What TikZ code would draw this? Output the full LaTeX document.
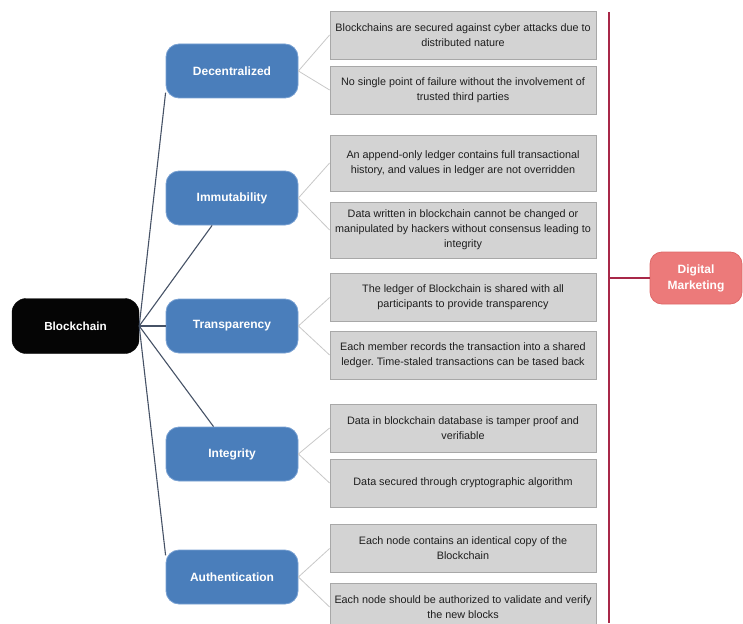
\documentclass[tikz,border=0pt]{standalone}
\usepackage{fontspec}
\setmainfont{Liberation Sans}
\usepackage{tikz}
\frenchspacing
\definecolor{rootblack}{RGB}{5,5,5}
\definecolor{propblue}{RGB}{74,126,187}
\definecolor{propedge}{RGB}{120,160,210}
\definecolor{boxgray}{RGB}{211,211,211}
\definecolor{boxedge}{RGB}{168,168,168}
\definecolor{txtdark}{RGB}{30,30,30}
\definecolor{trunkcol}{RGB}{70,82,102}
\definecolor{twigcol}{RGB}{200,200,200}
\definecolor{railred}{RGB}{168,40,72}
\definecolor{dmfill}{RGB}{236,122,122}
\definecolor{dmedge}{RGB}{222,104,104}
\tikzset{
  rootbox/.style={rectangle, draw=rootblack, fill=rootblack, text=white,
    minimum width=127pt, minimum height=55pt, rounded corners=14pt,
    font=\fontsize{11.7}{13}\selectfont\bfseries},
  propbox/.style={rectangle, draw=propedge, fill=propblue, text=white,
    minimum width=132pt, minimum height=54pt, rounded corners=13pt,
    font=\fontsize{12}{14}\selectfont\bfseries, line width=0.8pt},
  leafbox/.style={rectangle, draw=boxedge, fill=boxgray, text=txtdark,
    minimum width=266pt, minimum height=48pt, align=center,
    font=\fontsize{10.8}{15}\selectfont, line width=0.8pt},
  dmbox/.style={rectangle, draw=dmedge, fill=dmfill, text=white,
    minimum width=92pt, minimum height=52pt, rounded corners=12pt,
    align=center, font=\fontsize{12}{16}\selectfont\bfseries, line width=0.8pt},
  trunk/.style={line width=1.1pt, color=trunkcol},
  twig/.style={line width=0.8pt, color=twigcol},
  rail/.style={line width=2pt, color=railred}
}

\begin{document}
\begin{tikzpicture}[x=1pt, y=-1pt]
  \useasboundingbox (0,0) rectangle (743,623);

  % Root
  \node[rootbox] (bc) at (75.5,326) {Blockchain};

  % Properties
  \node[propbox] (dec) at (232,71) {Decentralized};
  \node[propbox] (imm) at (232,198) {Immutability};
  \node[propbox] (trans) at (232,326) {Transparency};
  \node[propbox] (integ) at (232,454) {Integrity};
  \node[propbox] (auth) at (232,577) {Authentication};

  % Details
  \node[leafbox] (d1) at (463,35) {Blockchains are secured against cyber attacks due to\\distributed nature};
  \node[leafbox] (d2) at (463,90) {No single point of failure without the involvement of\\trusted third parties};
  \node[leafbox, minimum height=56pt] (i1) at (463,163) {An append-only ledger contains full transactional\\history, and values in ledger are not overridden};
  \node[leafbox, minimum height=56pt] (i2) at (463,230) {Data written in blockchain cannot be changed or\\manipulated by hackers without consensus leading to\\integrity};
  \node[leafbox] (t1) at (463,297.5) {The ledger of Blockchain is shared with all\\participants to provide transparency};
  \node[leafbox] (t2) at (463,355) {Each member records the transaction into a shared\\ledger. Time-staled transactions can be tased back};
  \node[leafbox] (g1) at (463,428) {Data in blockchain database is tamper proof and\\verifiable};
  \node[leafbox] (g2) at (463,483) {Data secured through cryptographic algorithm};
  \node[leafbox] (a1) at (463,548.5) {Each node contains an identical copy of the\\Blockchain};
  \node[leafbox] (a2) at (463,607) {Each node should be authorized to validate and verify\\the new blocks};

  % Digital marketing
  \node[dmbox] (dm) at (696,278) {Digital\\Marketing};
  \coordinate (rtop) at (609,12);
  \coordinate (rbot) at (609,623);
  \coordinate (rjoin) at (609,278);

  % Root to properties
  \draw[trunk] (bc.east) -- (dec.198);
  \draw[trunk] (bc.east) -- (imm.234);
  \draw[trunk] (bc.east) -- (trans.west);
  \draw[trunk] (bc.east) -- (integ.124);
  \draw[trunk] (bc.east) -- (auth.162);

  % Properties to details
  \draw[twig] (dec.east) -- (d1.west);
  \draw[twig] (dec.east) -- (d2.west);
  \draw[twig] (imm.east) -- (i1.west);
  \draw[twig] (imm.east) -- (i2.west);
  \draw[twig] (trans.east) -- (t1.west);
  \draw[twig] (trans.east) -- (t2.west);
  \draw[twig] (integ.east) -- (g1.west);
  \draw[twig] (integ.east) -- (g2.west);
  \draw[twig] (auth.east) -- (a1.west);
  \draw[twig] (auth.east) -- (a2.west);

  % Red rail
  \draw[rail] (rtop) -- (rbot);
  \draw[rail] (rjoin) -- (dm);
\end{tikzpicture}
\end{document}
